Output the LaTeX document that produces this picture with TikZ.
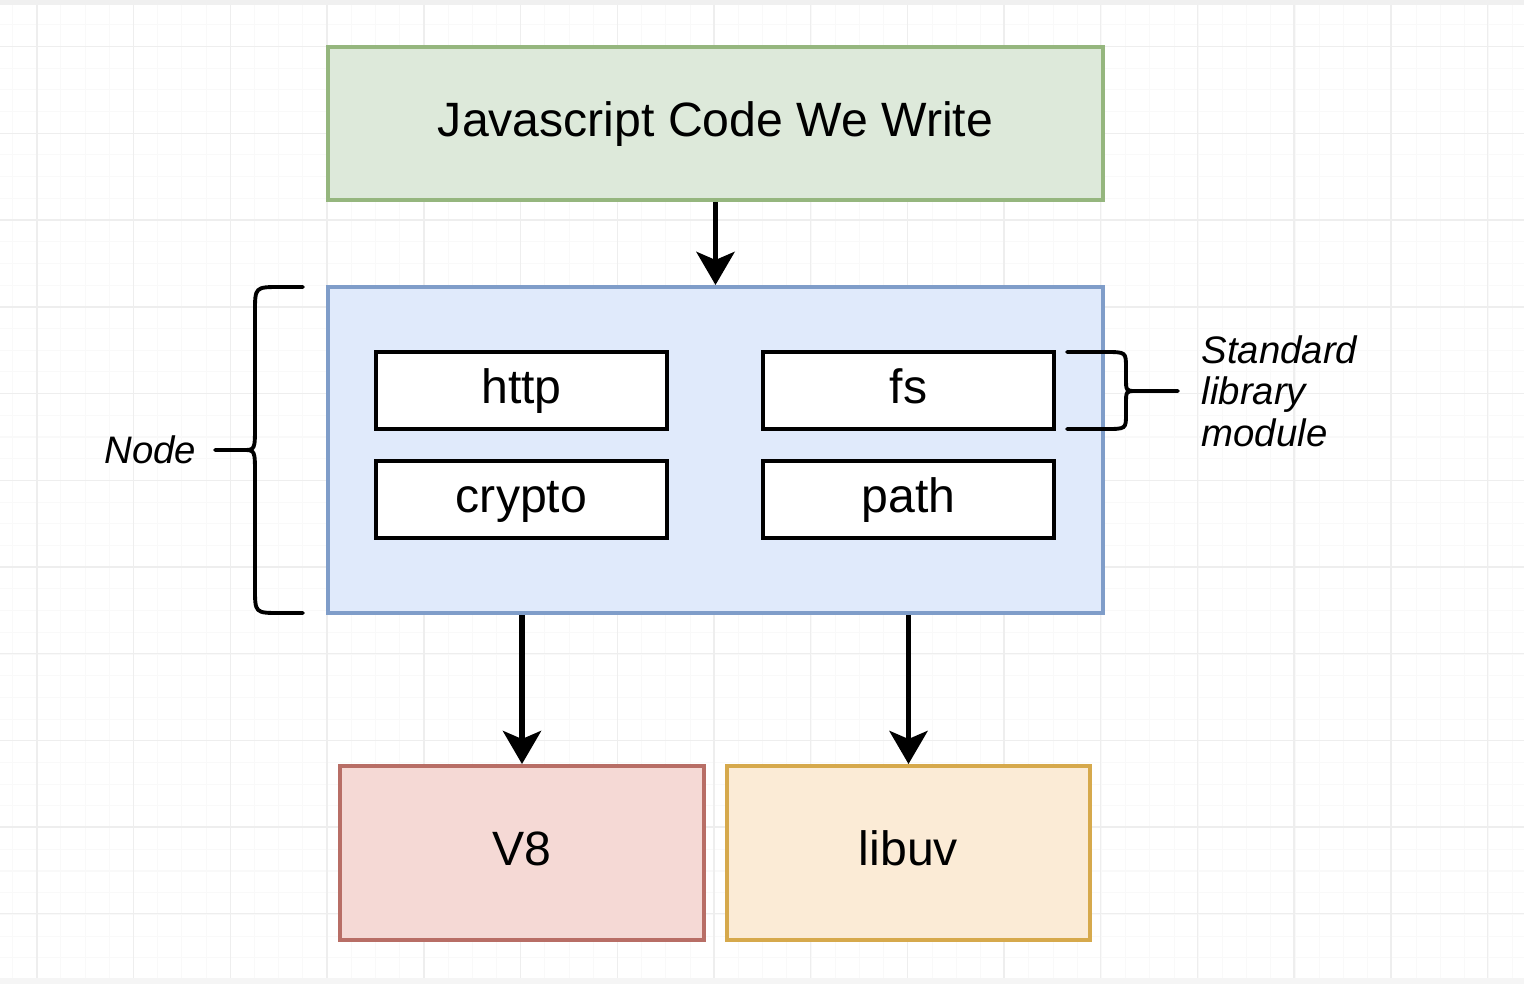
\documentclass[tikz,border=0pt]{standalone}
\usepackage{fontspec}
\setmainfont{Liberation Sans}
\usetikzlibrary{arrows.meta, positioning}
\definecolor{codegreen}{HTML}{DDE9DA}
\definecolor{codegreenedge}{HTML}{95B67E}
\definecolor{nodeblue}{HTML}{E0EAFB}
\definecolor{nodeblueedge}{HTML}{7F9DC9}
\definecolor{vred}{HTML}{F5D9D5}
\definecolor{vrededge}{HTML}{B86E66}
\definecolor{uvorange}{HTML}{FBEBD6}
\definecolor{uvorangeedge}{HTML}{D6A94C}
\newcommand{\boxfont}{\fontsize{13.7}{16}\selectfont}
\newcommand{\notefont}{\fontsize{10.9}{11.8}\selectfont\itshape}

\begin{document}
\begin{tikzpicture}[x=0.01cm, y=-0.01cm]
\tikzstyle{block} = [rectangle, line width=1.1pt, text centered, font=\boxfont, text height=0.33cm, text depth=0.08cm]
\tikzstyle{module} = [rectangle, draw=black, line width=1pt, fill=white, minimum width=2.91cm, minimum height=0.77cm, font=\boxfont, text height=0.33cm, text depth=0.08cm]
\tikzstyle{flow} = [line width=1.6pt, -{Stealth[length=0.33cm, width=0.38cm, inset=0.08cm]}]
\tikzstyle{bracket} = [line width=1.1pt, line cap=round]
\tikzstyle{note} = [inner sep=0pt, font=\notefont, align=left]

\useasboundingbox (0,0) rectangle (1524,984);
\fill[white] (0,0) rectangle (1524,984);

% background grid
\foreach \gx in {0,...,62} \draw[gray!5, line width=0.3pt] ({12.5+24.2*\gx},0) -- ({12.5+24.2*\gx},984);
\foreach \gy in {0,...,45} \draw[gray!5, line width=0.3pt] (0,{3+21.7*\gy}) -- (1524,{3+21.7*\gy});
\foreach \gx in {0,...,15} \draw[gray!13, line width=0.4pt] ({37+96.7*\gx},0) -- ({37+96.7*\gx},984);
\foreach \gy in {0,...,11} \draw[gray!13, line width=0.4pt] (0,{46.7+86.7*\gy}) -- (1524,{46.7+86.7*\gy});
\fill[gray!12] (0,0) rectangle (1524,5);
\fill[gray!8] (0,978) rectangle (1524,984);

% boxes
\node (code) [block, draw=codegreenedge, fill=codegreen, minimum width=7.75cm, minimum height=1.53cm] at (715.5,123.5) {Javascript Code We Write};
\node (nodejs) [block, draw=nodeblueedge, fill=nodeblue, minimum width=7.75cm, minimum height=3.26cm] at (715.5,450) {};

\node (http) [module] at (521.5,390.5) {http};
\node (fs) [module] at (908.5,390.5) {fs};
\node (crypto) [module] at (521.5,499.5) {crypto};
\node (path) [module] at (908.5,499.5) {path};

\node (v8) [block, draw=vrededge, fill=vred, minimum width=3.64cm, minimum height=1.74cm] at (522,853) {V8};
\node (libuv) [block, draw=uvorangeedge, fill=uvorange, minimum width=3.63cm, minimum height=1.74cm] at (908.5,853) {libuv};

% arrows
\draw[flow] (code) -- (nodejs);
\draw[flow] (nodejs.south -| v8) -- (v8);
\draw[flow] (nodejs.south -| libuv) -- (libuv);

% braces and notes
\node (nodelbl) [note, anchor=east] at (197,450) {Node};
\node (stdlbl) [note, anchor=west] at (1201,391) {Standard\\library\\module};

\draw[bracket] (303,287) -- (280,287) .. controls (255,287) .. (255,312) -- (255,425) .. controls (255,450) .. (243,450) -- (215,450);
\draw[bracket] (243,450) .. controls (255,450) .. (255,475) -- (255,588) .. controls (255,613) .. (280,613) -- (303,613);
\draw[bracket] (1067,352) -- (1105,352) .. controls (1126,352) .. (1126,368) -- (1126,378) .. controls (1126,391) .. (1136,391) -- (1178,391);
\draw[bracket] (1136,391) .. controls (1126,391) .. (1126,404) -- (1126,414) .. controls (1126,429) .. (1105,429) -- (1067,429);

\end{tikzpicture}
\end{document}
